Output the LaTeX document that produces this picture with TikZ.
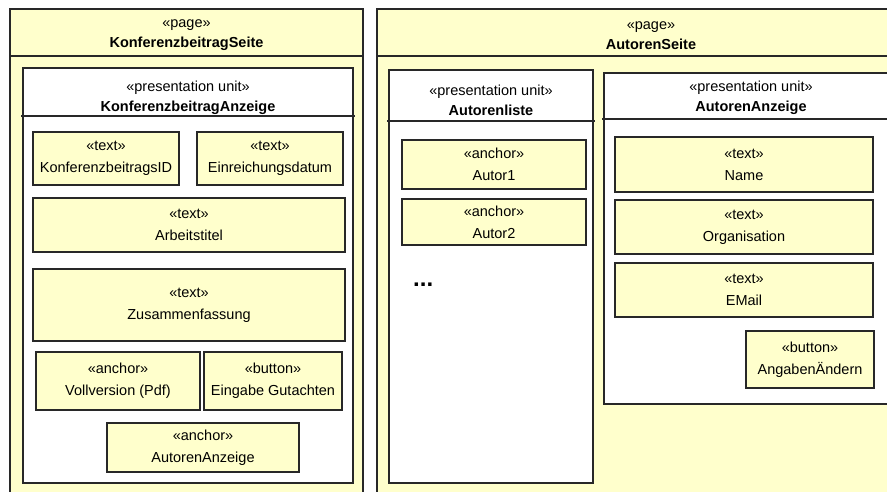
\documentclass[tikz,border=0pt]{standalone}
\usepackage{fontspec}
\setmainfont{Liberation Sans}

\definecolor{umlfill}{RGB}{255,255,204}
\definecolor{umlline}{RGB}{40,40,40}

\tikzset{
  umlframe/.style={draw=umlline, line width=1.2pt},
  pagebox/.style={umlframe, fill=umlfill},
  unitbox/.style={umlframe, fill=white},
  elem/.style={umlframe, fill=umlfill, align=center, inner sep=0pt,
    font=\fontsize{14.5}{22}\selectfont},
  title/.style={align=center, inner sep=0pt},
  every node/.style={font=\fontsize{14.5}{20}\selectfont},
}

\begin{document}
\begin{tikzpicture}[scale=1]

 \begin{scope} [x = {(1pt,0)},
   y = {(0,-1pt)}]

  \useasboundingbox (0,0) rectangle (887,491);
  \clip (0,0) rectangle (887,491);

  \path coordinate (KT) at (10,9)
  coordinate (KB) at (363,500)
  coordinate (KAT) at (23,68)
  coordinate (KAB) at (353,483)
  coordinate (AT) at (377,9)
  coordinate (AB) at (925,500)
  coordinate (ALT) at (389,70)
  coordinate (ALB) at (593,483)
  coordinate (AAT) at (604,73)
  coordinate (AAB) at (898,404);

  % KonferenzbeitragSeite
  \draw[pagebox] (KT) rectangle (KB);
  \draw[umlframe] (10,56) -- (363,56);
  \node[title] (kseite) at (186.5,35.5) {«page»\\\textbf{KonferenzbeitragSeite}};

  \draw[unitbox] (KAT) rectangle (KAB);
  \draw[umlframe] (21,116) -- (355,116);
  \node[title] (kanzeige) at (188,97.5) {«presentation unit»\\\textbf{KonferenzbeitragAnzeige}};

  \node[elem, minimum width=146, minimum height=53] (kid) at (106,158.5) {«text»\\KonferenzbeitragsID};
  \node[elem, minimum width=146, minimum height=53] (edatum) at (270,158.5) {«text»\\Einreichungsdatum};
  \node[elem, minimum width=312, minimum height=54] (atitel) at (189,225) {«text»\\Arbeitstitel};
  \node[elem, minimum width=312, minimum height=72] (zfass) at (189,305) {«text»\\Zusammenfassung};
  \node[elem, minimum width=164, minimum height=58] (vollv) at (118,381) {«anchor»\\Vollversion (Pdf)};
  \node[elem, minimum width=138, minimum height=58] (gutachten) at (273,381) {«button»\\Eingabe Gutachten};
  \node[elem, minimum width=192, minimum height=49] (aanker) at (203,447.5) {«anchor»\\AutorenAnzeige};

  % AutorenSeite
  \draw[pagebox] (AT) rectangle (AB);
  \draw[umlframe] (377,56) -- (925,56);
  \node[title] (aseite) at (651,35.5) {«page»\\\textbf{AutorenSeite}};

  \draw[unitbox] (ALT) rectangle (ALB);
  \draw[umlframe] (387,121) -- (595,121);
  \node[title] (aliste) at (491,100) {«presentation unit»\\\textbf{Autorenliste}};

  \node[elem, minimum width=184, minimum height=49] (autor1) at (494,164.5) {«anchor»\\Autor1};
  \node[elem, minimum width=184, minimum height=46] (autor2) at (494,222) {«anchor»\\Autor2};
  \node[anchor=base west, inner sep=0pt, font=\fontsize{24}{24}\selectfont\bfseries] (dots) at (413,286) {...};

  \draw[unitbox] (AAT) rectangle (AAB);
  \draw[umlframe] (602,119) -- (898,119);
  \node[title] (aanzeige) at (751,98) {«presentation unit»\\\textbf{AutorenAnzeige}};

  \node[elem, minimum width=258, minimum height=55] (name) at (744,164.5) {«text»\\Name};
  \node[elem, minimum width=258, minimum height=54] (orga) at (744,227) {«text»\\Organisation};
  \node[elem, minimum width=258, minimum height=54] (email) at (744,290) {«text»\\EMail};
  \node[elem, minimum width=128, minimum height=57] (aendern) at (810,359.5) {«button»\\AngabenÄndern};

 \end{scope}

\end{tikzpicture}
\end{document}
